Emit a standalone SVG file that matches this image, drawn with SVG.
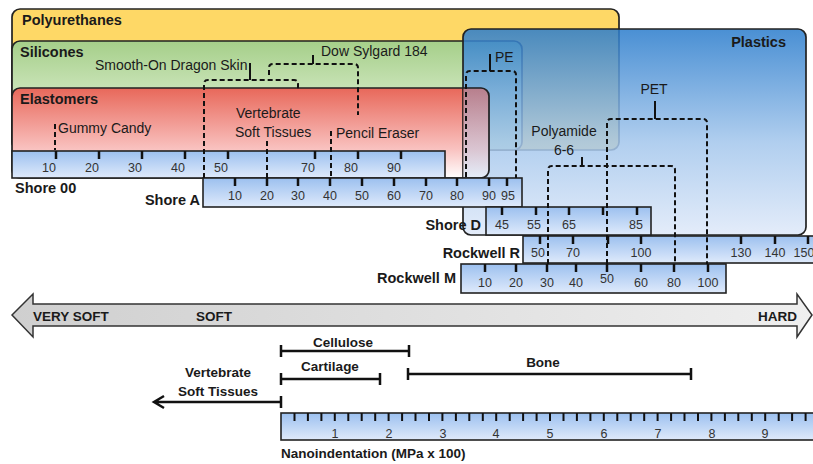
<svg xmlns="http://www.w3.org/2000/svg" width="813" height="464" viewBox="0 0 813 464">
<defs>
<style>
text{font-family:"Liberation Sans",Arial,sans-serif;fill:#1a1a1a}
.cat{font-size:14.5px;font-weight:bold}
.lbl{font-size:14px}
.sn{font-size:14.5px;font-weight:bold}
.bl{font-size:13.5px;font-weight:bold}
.tl{font-size:12.5px;fill:#333;text-anchor:middle}
.box{stroke:#222;stroke-width:1.7}
.scale{fill:url(#sg);stroke:#222;stroke-width:1.6}
.tk{stroke:#111;stroke-width:2.5}
.ntk{stroke:#111;stroke-width:2}
.dash{fill:none;stroke:#111;stroke-width:2;stroke-dasharray:5 3}
.notch{fill:none;stroke:#111;stroke-width:2}
.bar{fill:none;stroke:#111;stroke-width:2.5}
</style>
<linearGradient id="sg" x1="0" y1="0" x2="0" y2="1">
<stop offset="0" stop-color="#9cc0ef"/>
<stop offset="1" stop-color="#dfeafb"/>
</linearGradient>
<linearGradient id="gg" gradientUnits="userSpaceOnUse" x1="0" y1="41" x2="0" y2="90">
<stop offset="0" stop-color="#a5cf89"/>
<stop offset="1" stop-color="#c9e3b7"/>
</linearGradient>
<linearGradient id="rg" gradientUnits="userSpaceOnUse" x1="0" y1="88" x2="0" y2="178">
<stop offset="0" stop-color="#e8685a"/>
<stop offset="0.68" stop-color="#f9c2c0"/>
<stop offset="1" stop-color="#ffffff"/>
</linearGradient>
<linearGradient id="pg" gradientUnits="userSpaceOnUse" x1="0" y1="29" x2="0" y2="235">
<stop offset="0" stop-color="#2a7ccc"/>
<stop offset="0.55" stop-color="#a3c6ec"/>
<stop offset="1" stop-color="#dfe9f9"/>
</linearGradient>
<linearGradient id="ag" x1="0" y1="0" x2="1" y2="0">
<stop offset="0" stop-color="#cfcfcf"/>
<stop offset="1" stop-color="#efefef"/>
</linearGradient>
<clipPath id="stripe"><rect x="463" y="80" width="30" height="100"/></clipPath>
</defs>

<g id="polyurethanes">
<rect class="box" x="12" y="9" width="607" height="141" rx="8" fill="#fed866"/>
<text class="cat" x="22" y="25">Polyurethanes</text>
</g>
<g id="silicones">
<rect class="box" x="12" y="41" width="510" height="109" rx="8" fill="url(#gg)"/>
<text class="cat" x="20" y="57">Silicones</text>
</g>
<g id="elastomers">
<rect class="box" x="12" y="88" width="477" height="90" rx="8" fill="url(#rg)"/>
<text class="cat" x="20" y="104">Elastomers</text>
</g>

<g id="shore00">
<rect class="scale" x="12" y="151" width="433" height="27"/>
<g class="tk"><path d="M56,151V159M99,151V159M142,151V159M185,151V159M228,151V159M315,151V159M358,151V159M401,151V159"/></g>
<text class="tl" x="49" y="172">10</text>
<text class="tl" x="92" y="172">20</text>
<text class="tl" x="135" y="172">30</text>
<text class="tl" x="178" y="172">40</text>
<text class="tl" x="221" y="172">50</text>
<text class="tl" x="308" y="172">70</text>
<text class="tl" x="351" y="172">80</text>
<text class="tl" x="394" y="172">90</text>
<text class="sn" x="15" y="193">Shore 00</text>
</g>

<g id="plastics">
<rect class="box" x="463" y="29" width="343" height="206" rx="8" fill="url(#pg)" fill-opacity="0.85"/>
<rect x="12" y="88" width="477" height="90" rx="8" fill="url(#rg)" fill-opacity="0.55" stroke="#222" stroke-width="1.7" clip-path="url(#stripe)"/>
<text class="cat" x="786" y="47" text-anchor="end">Plastics</text>
</g>

<g id="shoreA">
<rect class="scale" x="203" y="178" width="319" height="29"/>
<g class="tk"><path d="M235,178V186M267,178V186M298,178V186M330,178V186M362,178V186M394,178V186M426,178V186M457,178V186M489,178V186M507,178V186"/></g>
<text class="tl" x="235" y="200">10</text>
<text class="tl" x="267" y="200">20</text>
<text class="tl" x="298" y="200">30</text>
<text class="tl" x="330" y="200">40</text>
<text class="tl" x="362" y="200">50</text>
<text class="tl" x="394" y="200">60</text>
<text class="tl" x="426" y="200">70</text>
<text class="tl" x="457" y="200">80</text>
<text class="tl" x="489" y="200">90</text>
<text class="tl" x="508" y="200">95</text>
<text class="sn" x="200" y="205" text-anchor="end">Shore A</text>
</g>

<g id="shoreD">
<rect class="scale" x="486" y="207" width="165" height="28"/>
<g class="tk"><path d="M502,207V215M536,207V215M569,207V215M603,207V215M637,207V215"/></g>
<text class="tl" x="502" y="229">45</text>
<text class="tl" x="534" y="229">55</text>
<text class="tl" x="569" y="229">65</text>
<text class="tl" x="636" y="229">85</text>
<text class="sn" x="481" y="230" text-anchor="end">Shore D</text>
</g>

<g id="rockwellR">
<rect class="scale" x="523" y="236" width="310" height="27"/>
<g class="tk"><path d="M540,236V244M573,236V244M608,236V244M641,236V244M741,236V244M775,236V244M808,236V244"/></g>
<text class="tl" x="538" y="257">50</text>
<text class="tl" x="573" y="257">70</text>
<text class="tl" x="641" y="257">100</text>
<text class="tl" x="741" y="257">130</text>
<text class="tl" x="775" y="257">140</text>
<text class="tl" x="804" y="257">150</text>
<text class="sn" x="520" y="258" text-anchor="end">Rockwell R</text>
</g>

<g id="rockwellM">
<rect class="scale" x="461" y="264" width="265" height="29"/>
<g class="tk"><path d="M485,264V272M516,264V272M547,264V272M576,264V272M607,264V272M641,264V272M674,264V272M708,264V272"/></g>
<text class="tl" x="485" y="287">10</text>
<text class="tl" x="516" y="287">20</text>
<text class="tl" x="547" y="287">30</text>
<text class="tl" x="576" y="287">40</text>
<text class="tl" x="607" y="283">50</text>
<text class="tl" x="641" y="287">60</text>
<text class="tl" x="674" y="287">80</text>
<text class="tl" x="708" y="287">100</text>
<text class="sn" x="456" y="283" text-anchor="end">Rockwell M</text>
</g>

<g id="connectors">
<path class="dash" d="M204,178V84Q204,80 208,80H294Q298,80 298,84V90"/>
<path class="notch" d="M250,80V63"/>
<path class="dash" d="M269,75V68Q269,64 273,64H354Q358,64 358,68V115"/>
<path class="notch" d="M313,64V55"/>
<path class="dash" d="M466,177V75Q466,71 470,71H512Q516,71 516,75V178"/>
<path class="notch" d="M490,71V54"/>
<path class="dash" d="M607,264V123Q607,119 611,119H703Q707,119 707,123V264"/>
<path class="notch" d="M655,119V101"/>
<path class="dash" d="M548,264V170Q548,166 552,166H671Q675,166 675,170V264"/>
<path class="notch" d="M582,166V157"/>
<path class="dash" d="M267,141V178"/>
<path class="dash" d="M331,131V178"/>
<path class="dash" d="M55,124V150"/>
</g>

<g id="materials">
<text class="lbl" x="95" y="70">Smooth-On Dragon Skin</text>
<text class="lbl" x="321" y="56">Dow Sylgard 184</text>
<text class="lbl" x="236" y="118">Vertebrate</text>
<text class="lbl" x="235" y="137">Soft Tissues</text>
<text class="lbl" x="58" y="133">Gummy Candy</text>
<text class="lbl" x="336" y="138">Pencil Eraser</text>
<text class="lbl" x="495" y="62">PE</text>
<text class="lbl" x="654" y="94" text-anchor="middle">PET</text>
<text class="lbl" x="564" y="136" text-anchor="middle">Polyamide</text>
<text class="lbl" x="564" y="155" text-anchor="middle">6-6</text>
</g>

<g id="hardness-arrow">
<path d="M12,315L33,294V304H797V294L812,315L797,337V326H33V337Z" fill="url(#ag)" stroke="#333" stroke-width="1.5"/>
<text class="bl" x="33" y="321">VERY SOFT</text>
<text class="bl" x="196" y="321">SOFT</text>
<text class="bl" x="797" y="321" text-anchor="end">HARD</text>
</g>

<g id="cellulose">
<path class="bar" d="M281,351H409M281,345V357M409,345V357"/>
<text class="bl" x="343" y="347" text-anchor="middle">Cellulose</text>
</g>
<g id="cartilage">
<path class="bar" d="M281,379H380M281,373V385M380,373V385"/>
<text class="bl" x="330" y="371" text-anchor="middle">Cartilage</text>
</g>
<g id="bone">
<path class="bar" d="M408,374H691M408,368V380M691,368V380"/>
<text class="bl" x="543" y="367" text-anchor="middle">Bone</text>
</g>
<g id="vertebrate-soft-tissues">
<path class="bar" d="M281,402H154M281,396V408M164,396L154,402L164,408"/>
<text class="bl" x="218" y="377" text-anchor="middle">Vertebrate</text>
<text class="bl" x="218" y="396" text-anchor="middle">Soft Tissues</text>
</g>

<g id="nanoindentation">
<rect class="scale" x="281" y="413" width="560" height="27"/>
<path class="ntk" d="M294.5,413V421M307.9,413V421M321.4,413V421M334.8,413V421M348.3,413V421M361.7,413V421M375.2,413V421M388.6,413V421M402.1,413V421M415.5,413V421M429,413V421M442.4,413V421M455.9,413V421M469.3,413V421M482.8,413V421M496.2,413V421M509.7,413V421M523.1,413V421M536.6,413V421M550,413V421M563.5,413V421M576.9,413V421M590.4,413V421M603.8,413V421M617.3,413V421M630.7,413V421M644.2,413V421M657.6,413V421M671.1,413V421M684.5,413V421M698,413V421M711.4,413V421M724.9,413V421M738.3,413V421M751.8,413V421M765.2,413V421M778.7,413V421M792.1,413V421M805.6,413V421"/>
<text class="tl" x="335" y="438">1</text>
<text class="tl" x="389" y="438">2</text>
<text class="tl" x="443" y="438">3</text>
<text class="tl" x="496" y="438">4</text>
<text class="tl" x="550" y="438">5</text>
<text class="tl" x="604" y="438">6</text>
<text class="tl" x="658" y="438">7</text>
<text class="tl" x="712" y="438">8</text>
<text class="tl" x="765" y="438">9</text>
<text class="bl" x="281" y="458">Nanoindentation (MPa x 100)</text>
</g>
</svg>
